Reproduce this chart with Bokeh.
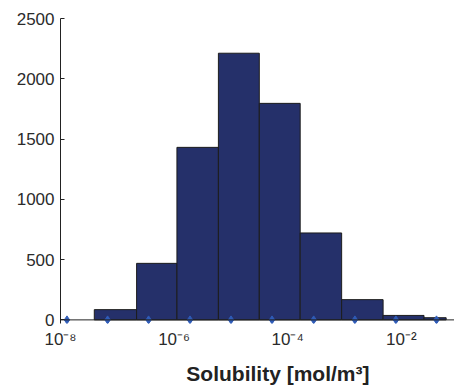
from bokeh.plotting import figure
from bokeh.models import (FixedTicker, CustomJSTickFormatter, Range1d, Span)
from bokeh.embed import file_html
from bokeh.resources import INLINE

# ---- data ----
bin_edges_log = [-7.405, -6.66, -5.95, -5.22, -4.50, -3.78, -3.05, -2.32, -1.60, -1.21]
counts = [85, 469, 1431, 2212, 1796, 721, 168, 37, 18]
marker_log = [-7.886, -7.171, -6.449, -5.720, -4.998, -4.276, -3.542, -2.817, -2.095, -1.380]
x_ticks = [1e-8, 1e-6, 1e-4, 1e-2]
y_ticks = [0, 500, 1000, 1500, 2000, 2500]
x_label = "Solubility [mol/m³]"

lefts = [10 ** e for e in bin_edges_log[:-1]]
rights = [10 ** e for e in bin_edges_log[1:]]
marker_x = [10 ** e for e in marker_log]
marker_y = [0] * len(marker_x)

p = figure(width=454, height=387, x_axis_type="log",
           x_range=Range1d(1e-8, 10 ** -1.063), y_range=Range1d(-30, 2500),
           output_backend="svg", toolbar_location=None,
           min_border_left=60, min_border_right=0, min_border_top=18,
           min_border_bottom=64)
p.outline_line_color = None
p.grid.visible = False
p.background_fill_color = "white"
p.border_fill_color = "white"

p.quad(left=lefts, right=rights, bottom=0, top=counts,
       fill_color="#25306a", line_color="#1c1c1c", line_width=1)
p.add_layout(Span(location=0, dimension="width", line_color="#222222", line_width=1))
p.scatter(marker_x, marker_y, marker="diamond", size=8,
          fill_color="#2f5cb8", line_color="#2f5cb8")

# x axis
xa = p.xaxis[0]
xa.ticker = FixedTicker(ticks=x_ticks)
xa.formatter = CustomJSTickFormatter(code="""
const sup = {'-':'\u207b','0':'\u2070','1':'\u00b9','2':'\u00b2','3':'\u00b3','4':'\u2074','5':'\u2075','6':'\u2076','7':'\u2077','8':'\u2078','9':'\u2079'};
const e = Math.round(Math.log10(tick));
return '10' + String(e).split('').map(c => sup[c]).join('');
""")
xa.major_tick_in = 0
xa.major_tick_out = 0
xa.minor_tick_line_color = None
xa.axis_line_color = None
xa.major_label_standoff = 6
xa.major_label_text_font = "Liberation Sans"
xa.major_label_text_font_size = "17px"
xa.major_label_text_color = "#2b2b2b"
xa.axis_label = "\u00a0" * 7 + x_label
xa.axis_label_standoff = 10
xa.axis_label_text_font = "Liberation Sans"
xa.axis_label_text_font_style = "bold"
xa.axis_label_text_font_size = "21px"
xa.axis_label_text_color = "#222222"

# y axis
ya = p.yaxis[0]
ya.ticker = FixedTicker(ticks=y_ticks)
ya.major_tick_in = 4
ya.major_tick_out = 0
ya.minor_tick_line_color = None
ya.axis_line_color = "#222222"
ya.major_tick_line_color = "#222222"
ya.major_label_standoff = 6
ya.major_label_text_font = "Liberation Sans"
ya.major_label_text_font_size = "17px"
ya.major_label_text_color = "#2b2b2b"

open("out.html", "w").write(file_html(p, INLINE))
